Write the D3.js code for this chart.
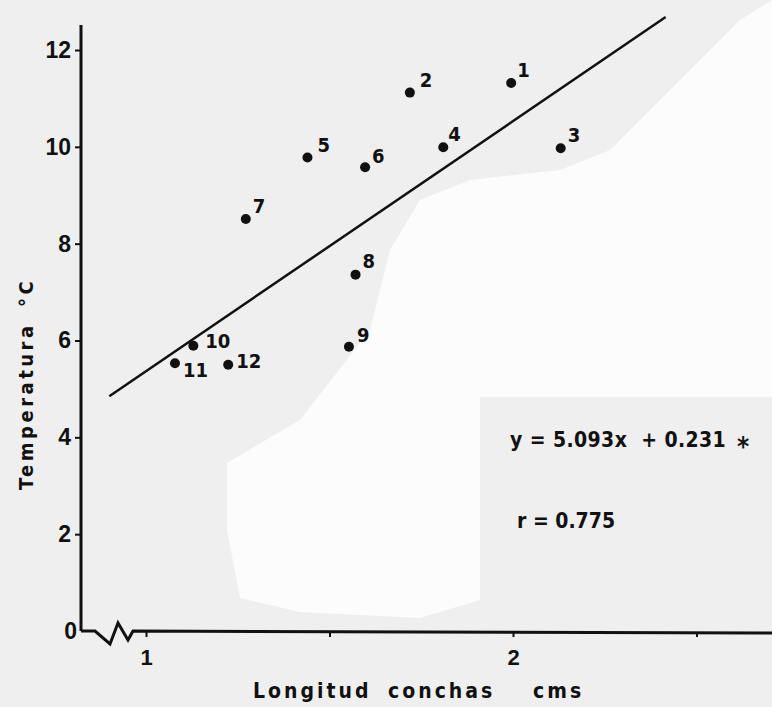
<!DOCTYPE html>
<html>
<head>
<meta charset="utf-8">
<script src="https://cdn.jsdelivr.net/npm/d3@7"></script>
<style>
  html, body { margin: 0; padding: 0; background: #efefef; }
  svg { display: block; font-family: "DejaVu Sans Condensed", "DejaVu Sans", sans-serif; font-weight: bold; }
</style>
</head>
<body>
<div id="chart"></div>
<script>
// shell length vs temperature
var pointIds   = ["1", "2", "3", "4", "5", "6", "7", "8", "9", "10", "11", "12"];
var lengthCms  = [1.995, 1.719, 2.13, 1.81, 1.44, 1.597, 1.272, 1.571, 1.553, 1.129, 1.079, 1.224];
var tempC      = [11.32, 11.12, 9.97, 9.99, 9.78, 9.58, 8.51, 7.36, 5.87, 5.89, 5.53, 5.50];

// fitted line as drawn (end points)
var fitX = [0.90, 2.416];
var fitY = [4.85, 12.68];

var yTicks = [0, 2, 4, 6, 8, 10, 12];
var xTicks = [1, 1.5, 2, 2.5];
var xTickLabels = {1: "1", 2: "2"};

var equationText = "y = 5.093x  + 0.231";
var rText = "r = 0.775";

// label offsets (px) next to each dot, same order as pointIds
var labelDx = [6, 10, 7, 5, 10, 7, 7, 7, 8, 12, 8, 8];
var labelDy = [-6, -6, -6, -6, -5, -4, -6, -7, -5, 2, 14, 3];

var width = 772, height = 707;
var axisX = 81;
var ink = "#111";

var svg = d3.select("#chart").append("svg")
  .attr("width", width)
  .attr("height", height);

// scanned paper: light grey with whiter patches
svg.append("rect")
  .attr("width", width).attr("height", height)
  .attr("fill", "#efefef");
svg.append("path")
  .attr("d", "M227,463 L300,420 L370,330 L390,250 L420,200 L470,180 L560,170 L610,150 L680,80 L740,20 L772,0 L772,397 L480,397 L480,600 L420,618 L300,612 L240,598 L227,530 Z")
  .attr("fill", "#fcfcfc");

var x = d3.scaleLinear().domain([1, 2]).range([146, 513]);
var y = d3.scaleLinear().domain([0, 12]).range([631, 50]);

// y axis
var yAxis = svg.append("g")
  .attr("transform", "translate(" + axisX + ",0)")
  .call(d3.axisLeft(y).tickValues(yTicks).tickSize(6).tickPadding(4).tickFormat(d3.format("d")));
yAxis.select(".domain").remove();
yAxis.selectAll(".tick line").attr("stroke", ink).attr("stroke-width", 2)
  .filter(function(d) { return d === 0; }).remove();
yAxis.selectAll(".tick text")
  .attr("font-size", 23).attr("fill", ink)
  .attr("font-family", null)
  .attr("dx", function(d) { return d === 0 ? 6 : 0; });

svg.append("line")
  .attr("x1", axisX).attr("x2", axisX)
  .attr("y1", 25).attr("y2", y(0))
  .attr("stroke", ink).attr("stroke-width", 3);

// x axis with a break near the origin
var y0 = y(0);
svg.append("path")
  .attr("d", "M" + axisX + "," + y0 + " L95," + y0 + " L110," + (y0 + 13) + " L118," + (y0 - 8) +
             " L128," + (y0 + 9) + " L133," + y0 + " L" + width + "," + (y0 + 2))
  .attr("fill", "none").attr("stroke", ink).attr("stroke-width", 3)
  .attr("stroke-linejoin", "miter");

var xAxis = svg.append("g")
  .attr("transform", "translate(0," + (y0 + 1) + ")")
  .call(d3.axisBottom(x).tickValues(xTicks).tickSize(5).tickPadding(12)
    .tickFormat(function(d) { return xTickLabels[d] || ""; }));
xAxis.select(".domain").remove();
xAxis.selectAll(".tick line").attr("stroke", ink).attr("stroke-width", 2);
xAxis.selectAll(".tick text")
  .attr("font-size", 22).attr("fill", ink)
  .attr("font-family", null);

// axis titles
var xTitle = svg.append("text")
  .attr("y", 698)
  .attr("font-size", 21)
  .attr("letter-spacing", 3)
  .attr("fill", ink);
xTitle.append("tspan").attr("x", 253).text("Longitud");
xTitle.append("tspan").attr("x", 388).text("conchas");
xTitle.append("tspan").attr("x", 533).text("cms");

var yTitle = svg.append("text")
  .attr("transform", "translate(33,490) rotate(-90)")
  .attr("font-size", 20)
  .attr("letter-spacing", 3.5)
  .attr("fill", ink);
yTitle.append("tspan").attr("x", 0).text("Temperatura");
yTitle.append("tspan").attr("x", 183).text("\u00B0C");

// regression line
var fit = fitX.map(function(v, i) { return {x: v, y: fitY[i]}; });
svg.append("path")
  .datum(fit)
  .attr("d", d3.line().x(function(d) { return x(d.x); }).y(function(d) { return y(d.y); }))
  .attr("fill", "none").attr("stroke", ink).attr("stroke-width", 2.5);

// points
var points = pointIds.map(function(id, i) {
  return {id: id, x: lengthCms[i], y: tempC[i], dx: labelDx[i], dy: labelDy[i]};
});

svg.selectAll("circle.pt")
  .data(points)
  .enter().append("circle")
  .attr("class", "pt")
  .attr("cx", function(d) { return x(d.x); })
  .attr("cy", function(d) { return y(d.y); })
  .attr("r", 5)
  .attr("fill", ink);

svg.selectAll("text.lbl")
  .data(points)
  .enter().append("text")
  .attr("class", "lbl")
  .attr("x", function(d) { return x(d.x) + d.dx; })
  .attr("y", function(d) { return y(d.y) + d.dy; })
  .attr("font-size", 20)
  .attr("fill", ink)
  .text(function(d) { return d.id; });

// equation and correlation
svg.append("text")
  .attr("x", 510).attr("y", 447)
  .attr("font-size", 21)
  .attr("letter-spacing", 0.4)
  .attr("fill", ink)
  .attr("style", "white-space: pre")
  .text(equationText);
svg.append("text")
  .attr("x", 737).attr("y", 456)
  .attr("font-size", 26)
  .attr("fill", ink)
  .text("*");
svg.append("text")
  .attr("x", 517).attr("y", 528)
  .attr("font-size", 21)
  .attr("fill", ink)
  .text(rText);
</script>
</body>
</html>
